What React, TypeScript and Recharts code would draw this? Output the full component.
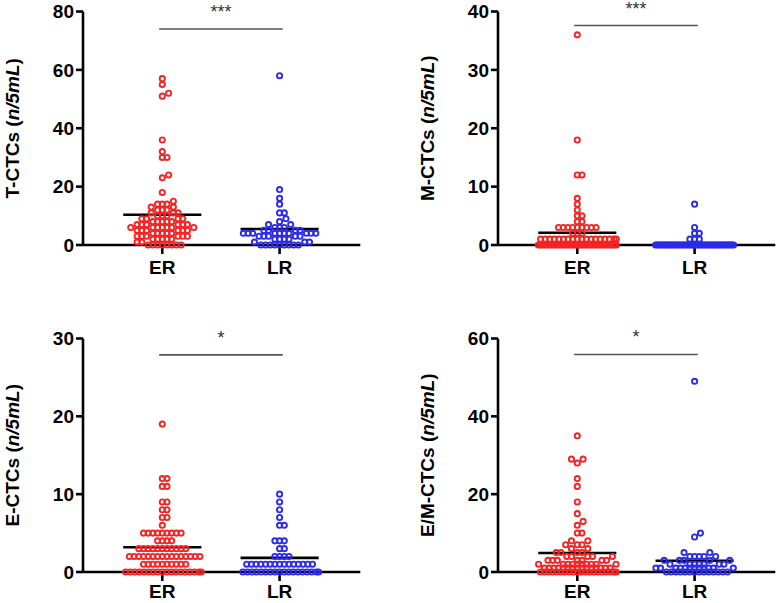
import { ScatterChart, Scatter, XAxis, YAxis, ReferenceLine } from 'recharts';

const GROUPS = ['ER', 'LR'];
const COLORS = ['#f42424', '#2b2be8'];

// T-CTCs (n/5mL)
const T_ER = [
  57, 55, 52, 51, 36, 32, 30, 30, 24, 23, 18,
  15, 14, 14, 14, 13, 13, 12, 12, 12, 11, 11, 11, 10, 10, 10,
  9, 9, 9, 9, 8, 8, 8, 8, 8, 7, 7, 7, 7, 7, 7,
  6, 6, 6, 6, 6, 6, 6, 5, 5, 5, 5, 5, 5, 4, 4, 4, 4, 4,
  3, 3, 3, 3, 3, 3, 2, 2, 2, 2, 2, 1, 1, 0, 0, 0, 0, 0, 0, 0, 0,
];
const T_LR = [
  58, 19, 16, 14, 11, 11, 9, 8, 7, 7, 6, 6, 6, 5, 5, 5, 5,
  4, 4, 4, 4, 4, 4, 4, 4, 4, 4, 3, 3, 3, 3, 3, 2, 2, 2, 2, 1, 1, 1,
  0, 0, 0, 0, 0, 0, 0, 0, 0,
];

// M-CTCs (n/5mL)
const M_ER = [
  36, 18, 12, 12, 8, 7, 6, 5, 5, 4, 4,
  3, 3, 3, 3, 3, 3, 3, 3, 3, 2, 2, 2,
  1, 1, 1, 1, 1, 1, 1, 1, 1, 1, 1, 1, 1, 1, 1, 1, 1, 1,
  0, 0, 0, 0, 0, 0, 0, 0, 0, 0, 0, 0, 0, 0, 0, 0, 0, 0, 0, 0,
  0, 0, 0, 0, 0, 0, 0, 0, 0, 0, 0, 0, 0, 0, 0, 0, 0, 0, 0,
];
const M_LR = [
  7, 3, 2, 2, 1, 1, 1,
  0, 0, 0, 0, 0, 0, 0, 0, 0, 0, 0, 0, 0, 0, 0, 0, 0, 0, 0, 0,
  0, 0, 0, 0, 0, 0, 0, 0, 0, 0, 0, 0, 0, 0, 0, 0, 0, 0, 0, 0, 0,
];

// E-CTCs (n/5mL)
const E_ER = [
  19, 12, 12, 11, 11, 9, 9, 8, 8, 7, 7, 6,
  5, 5, 5, 5, 5, 5, 5, 5, 5, 4, 4, 4, 4,
  3, 3, 3, 3, 3, 3, 3, 3, 3, 3, 3,
  2, 2, 2, 2, 2, 2, 2, 2, 2, 2, 2, 2, 2, 2, 2, 2,
  1, 1, 1, 1, 1, 1, 1, 1, 1, 1,
  0, 0, 0, 0, 0, 0, 0, 0, 0, 0, 0, 0, 0, 0, 0, 0, 0, 0,
];
const E_LR = [
  10, 9, 8, 7, 6, 6, 4, 4, 4, 3, 3, 2, 2, 2, 2,
  1, 1, 1, 1, 1, 1, 1, 1, 1, 1, 1, 1, 1, 1, 1,
  0, 0, 0, 0, 0, 0, 0, 0, 0, 0, 0, 0, 0, 0, 0, 0, 0, 0,
];

// E/M-CTCs (n/5mL)
const EM_ER = [
  35, 29, 29, 28, 24, 22, 18, 15, 13, 12, 10, 10, 8, 8, 7, 7, 7, 6, 6,
  5, 5, 5, 5, 4, 4, 4, 4, 4, 3, 3, 3, 3, 3, 3, 3,
  2, 2, 2, 2, 2, 2, 2, 2, 2, 2,
  1, 1, 1, 1, 1, 1, 1, 1, 1, 1, 1, 1, 1, 1, 1,
  0, 0, 0, 0, 0, 0, 0, 0, 0, 0, 0, 0, 0, 0, 0, 0, 0, 0, 0, 0,
];
const EM_LR = [
  49, 10, 9, 5, 5, 4, 4, 4, 4, 4, 3, 3, 3, 3, 3,
  2, 2, 2, 2, 2, 2, 2, 1, 1, 1, 1, 1, 1, 1, 1, 1, 1, 1, 1,
  0, 0, 0, 0, 0, 0, 0, 0, 0, 0, 0, 0, 0, 0,
];

const TITLES = ['T-CTCs', 'M-CTCs', 'E-CTCs', 'E/M-CTCs'];
const Y_TICKS = [
  [0, 20, 40, 60, 80],
  [0, 10, 20, 30, 40],
  [0, 10, 20, 30],
  [0, 20, 40, 60],
];
const SIG_LABELS = ['***', '***', '*', '*'];
const SIG_Y = [74, 37.6, 27.9, 55.9];
const PANEL_DATA = [
  [T_ER, T_LR],
  [M_ER, M_LR],
  [E_ER, E_LR],
  [EM_ER, EM_LR],
];

// layout
const CHART_W = 362;
const AXIS_X = 83;
const PLOT_W = 277.3;
const PLOT_H = 233.5;
const Y_AXIS_W = 60;
const X_AXIS_H = 30;
const X_DOMAIN: [number, number] = [-0.676, 1.688];
const PX_PER_GROUP = PLOT_W / (X_DOMAIN[1] - X_DOMAIN[0]);
const SLOTS = [
  { left: 0, top: 0, height: 300, plotTop: 11.5, tickGap: 7 },
  { left: 415, top: 0, height: 300, plotTop: 11.5, tickGap: 7 },
  { left: 0, top: 300, height: 303, plotTop: 38.5, tickGap: 4 },
  { left: 415, top: 300, height: 303, plotTop: 38.5, tickGap: 4 },
];
const FONT = '"Liberation Sans", Arial, Helvetica, sans-serif';
const SAME_GAP = 4.7; // spacing inside a row of equal values
const NEAR_GAP = 7; // spacing between dots of neighbouring values
const NEAR_DY = 5; // neighbouring values closer than this (px) push each other aside
const HALF_SPREAD = 39;
const MEAN_HALF = 0.333;

const mean = (vals: number[]) => vals.reduce((a, b) => a + b, 0) / vals.length;

type Dot = { px: number; py: number; v: number };

function freeSpot(py: number, v: number, gap: number, others: Dot[], mixed: boolean) {
  const near = others.filter((p) =>
    p.v === v ? Math.abs(p.py - py) < gap : mixed && Math.abs(p.py - py) < NEAR_DY,
  );
  const dist = (p: Dot) => (p.v === v ? gap : NEAR_GAP);
  const candidates = [0];
  near.forEach((p) => {
    const d = dist(p);
    const dx = Math.sqrt(Math.max(0, d * d - (p.py - py) ** 2));
    candidates.push(p.px + dx, p.px - dx);
  });
  candidates.sort((a, b) => Math.abs(a) - Math.abs(b));
  return candidates.find((c) =>
    near.every((p) => (p.px - c) ** 2 + (p.py - py) ** 2 >= dist(p) ** 2 - 1e-6),
  ) ?? 0;
}

// beeswarm: each dot goes to the free spot closest to the column centre
function swarm(values: number[], pxPerValue: number, group: number) {
  const sorted = [...values].sort((a, b) => a - b);
  const counts = new Map<number, number>();
  sorted.forEach((v) => counts.set(v, (counts.get(v) ?? 0) + 1));
  const placed: Dot[] = [];

  return sorted.map((v) => {
    const n = counts.get(v)!;
    const gap = n > 1 ? Math.min(SAME_GAP, (2 * HALF_SPREAD) / (n - 1)) : SAME_GAP;
    const py = v * pxPerValue;
    let px = freeSpot(py, v, gap, placed, true);
    if (Math.abs(px) > HALF_SPREAD) px = freeSpot(py, v, gap, placed, false);
    if (Math.abs(px) > HALF_SPREAD) px = Math.sign(px) * HALF_SPREAD;
    placed.push({ px, py, v });
    return { x: group + px / PX_PER_GROUP, y: v };
  });
}

const ring = (color: string) => (props: any) => (
  <circle cx={props.cx} cy={props.cy} r={2.6} fill="none" stroke={color} strokeWidth={1.9} />
);

function AxisTitle(props: any) {
  const { viewBox, title } = props;
  const x = viewBox ? viewBox.x + viewBox.width - 71.5 : 11.5;
  const y = viewBox ? viewBox.y + viewBox.height / 2 : 128;
  return (
    <text
      x={x}
      y={y}
      transform={`rotate(-90, ${x}, ${y})`}
      textAnchor="middle"
      dominantBaseline="central"
      fontSize={19}
      fontWeight={700}
      fill="#000"
    >
      <tspan>{title} (</tspan>
      <tspan fontStyle="italic">n/5mL</tspan>
      <tspan>)</tspan>
    </text>
  );
}

const tickStyle = { fill: '#000', fontSize: 19, fontWeight: 700 };
const axisStroke = { stroke: '#000', strokeWidth: 2.6 };

function Panel({ i }: { i: number }) {
  const slot = SLOTS[i];
  const ticks = Y_TICKS[i];
  const yMax = ticks[ticks.length - 1];
  const pxPerValue = PLOT_H / yMax;
  const groups = PANEL_DATA[i];

  return (
    <div style={{ position: 'absolute', left: slot.left, top: slot.top }}>
      <ScatterChart
        width={CHART_W}
        height={slot.height}
        margin={{
          top: slot.plotTop,
          right: CHART_W - AXIS_X - PLOT_W,
          bottom: slot.height - slot.plotTop - PLOT_H - X_AXIS_H,
          left: AXIS_X - Y_AXIS_W,
        }}
      >
        <XAxis
          type="number"
          dataKey="x"
          domain={X_DOMAIN}
          ticks={[0, 1]}
          interval={0}
          tickFormatter={(v) => GROUPS[v]}
          height={X_AXIS_H}
          tick={tickStyle}
          tickSize={9}
          tickMargin={slot.tickGap}
          axisLine={axisStroke}
          tickLine={axisStroke}
        />
        <YAxis
          type="number"
          dataKey="y"
          domain={[0, yMax]}
          ticks={ticks}
          interval={0}
          width={Y_AXIS_W}
          tick={tickStyle}
          tickSize={7}
          tickMargin={2}
          axisLine={axisStroke}
          tickLine={axisStroke}
          label={<AxisTitle title={TITLES[i]} />}
        />
        {groups.map((vals, g) => (
          <Scatter
            key={GROUPS[g]}
            data={swarm(vals, pxPerValue, g)}
            shape={ring(COLORS[g])}
            isAnimationActive={false}
          />
        ))}
        {groups.map((vals, g) => (
          <ReferenceLine
            key={'mean-' + GROUPS[g]}
            segment={[
              { x: g - MEAN_HALF, y: mean(vals) },
              { x: g + MEAN_HALF, y: mean(vals) },
            ]}
            stroke="#000"
            strokeWidth={2.6}
          />
        ))}
        <ReferenceLine
          segment={[
            { x: -0.027, y: SIG_Y[i] },
            { x: 1.027, y: SIG_Y[i] },
          ]}
          stroke="#555"
          strokeWidth={1.6}
          label={{ value: SIG_LABELS[i], position: 'top', offset: 11, fill: '#333', fontSize: 18 }}
        />
      </ScatterChart>
    </div>
  );
}

export default function App() {
  return (
    <div
      style={{
        position: 'absolute',
        left: 0,
        top: 0,
        width: 777,
        height: 603,
        background: '#fff',
        fontFamily: FONT,
        overflow: 'hidden',
      }}
    >
      {[0, 1, 2, 3].map((i) => (
        <Panel key={i} i={i} />
      ))}
    </div>
  );
}
